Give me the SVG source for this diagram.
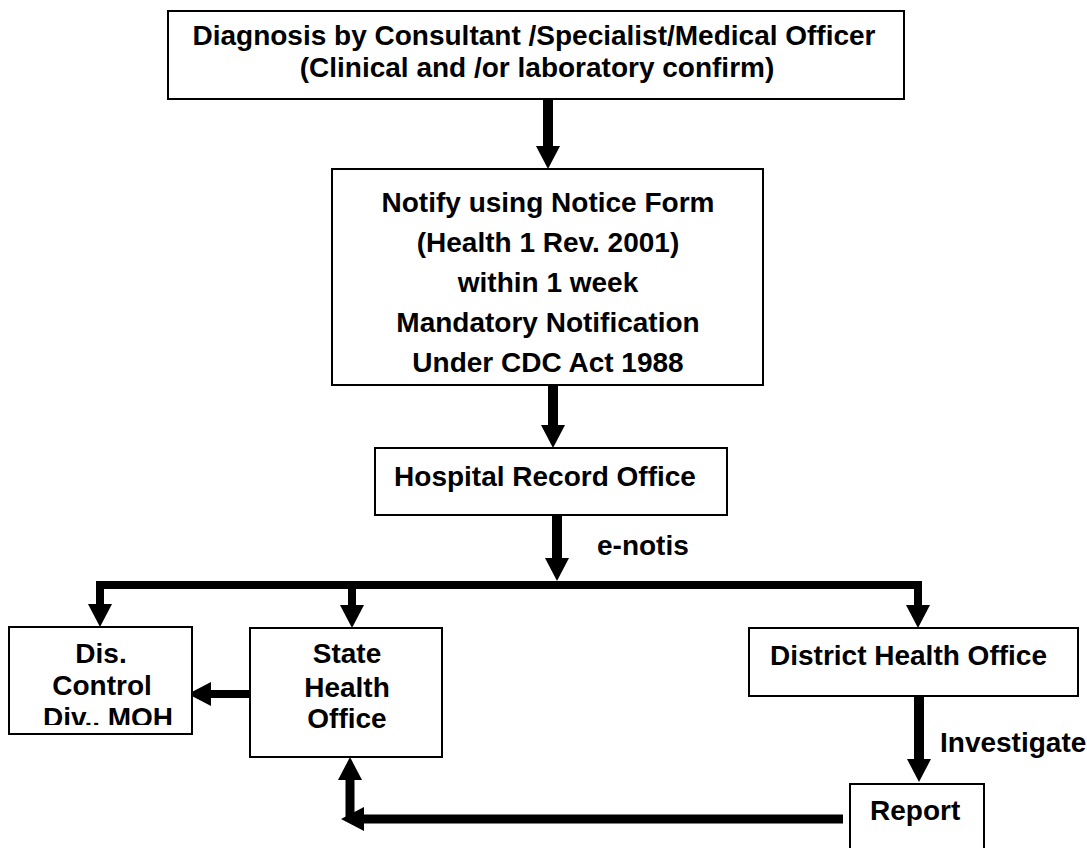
<svg xmlns="http://www.w3.org/2000/svg" width="1087" height="848" viewBox="0 0 1087 848">
<style>
.box{fill:#fff;stroke:#000;stroke-width:2}
.t{font-family:"Liberation Sans",Arial,sans-serif;font-weight:bold;font-size:28px;fill:#000}
.c{text-anchor:middle}
.ln{fill:none;stroke:#000;stroke-linecap:butt}
</style>
<defs>
<marker id="ah" viewBox="0 0 23 24" refX="0" refY="12" markerWidth="23" markerHeight="24" markerUnits="userSpaceOnUse" orient="auto">
<path d="M0,0 L23,12 L0,24 Z" fill="#000"/>
</marker>
<clipPath id="disclip"><rect x="9" y="627" width="183" height="98"/></clipPath>
</defs>
<rect width="1087" height="848" fill="#fff"/>
<g id="connectors">
<line class="ln" x1="548" y1="99" x2="548" y2="146" stroke-width="10" marker-end="url(#ah)"/>
<line class="ln" x1="553" y1="385" x2="553" y2="425" stroke-width="10" marker-end="url(#ah)"/>
<line class="ln" x1="557" y1="515" x2="557" y2="558" stroke-width="10" marker-end="url(#ah)"/>
<line class="ln" x1="96" y1="585" x2="922" y2="585" stroke-width="8"/>
<line class="ln" x1="100" y1="581" x2="100" y2="604" stroke-width="8" marker-end="url(#ah)"/>
<line class="ln" x1="352" y1="581" x2="352" y2="605" stroke-width="8" marker-end="url(#ah)"/>
<line class="ln" x1="918" y1="581" x2="918" y2="605" stroke-width="8" marker-end="url(#ah)"/>
<line class="ln" x1="254" y1="694" x2="211" y2="694" stroke-width="8" marker-end="url(#ah)"/>
<line class="ln" x1="919" y1="696" x2="919" y2="759" stroke-width="10" marker-end="url(#ah)"/>
<line class="ln" x1="843" y1="819" x2="364" y2="819" stroke-width="9" marker-end="url(#ah)"/>
<line class="ln" x1="350" y1="819" x2="350" y2="780" stroke-width="9" marker-end="url(#ah)"/>
<text class="t" x="597" y="555">e-notis</text>
<text class="t" x="940" y="752">Investigate</text>
</g>
<g id="diagnosis">
<rect class="box" x="168" y="11" width="736" height="88"/>
<text class="t c" x="534" y="45">Diagnosis by Consultant /Specialist/Medical Officer</text>
<text class="t c" x="537" y="77">(Clinical and /or laboratory confirm)</text>
</g>
<g id="notify">
<rect class="box" x="332" y="169" width="431" height="216"/>
<text class="t c" x="548" y="212">Notify using Notice Form</text>
<text class="t c" x="548" y="252">(Health 1 Rev. 2001)</text>
<text class="t c" x="548" y="292">within 1 week</text>
<text class="t c" x="548" y="332">Mandatory Notification</text>
<text class="t c" x="548" y="372">Under CDC Act 1988</text>
</g>
<g id="hospital">
<rect class="box" x="375" y="448" width="352" height="67"/>
<text class="t c" x="545" y="486">Hospital Record Office</text>
</g>
<g id="discontrol">
<rect class="box" x="9" y="627" width="183" height="107"/>
<g clip-path="url(#disclip)">
<text class="t c" x="101" y="663">Dis.</text>
<text class="t c" x="102" y="695">Control</text>
<text class="t c" x="108" y="727">Div.. MOH</text>
</g>
</g>
<g id="state">
<rect class="box" x="250" y="628" width="192" height="129"/>
<text class="t c" x="347" y="663">State</text>
<text class="t c" x="347" y="697">Health</text>
<text class="t c" x="347" y="728">Office</text>
</g>
<g id="district">
<rect class="box" x="749" y="628" width="329" height="68"/>
<text class="t" x="770" y="665">District Health Office</text>
</g>
<g id="report">
<rect class="box" x="850" y="784" width="134" height="80"/>
<text class="t" x="870" y="820">Report</text>
</g>
</svg>
